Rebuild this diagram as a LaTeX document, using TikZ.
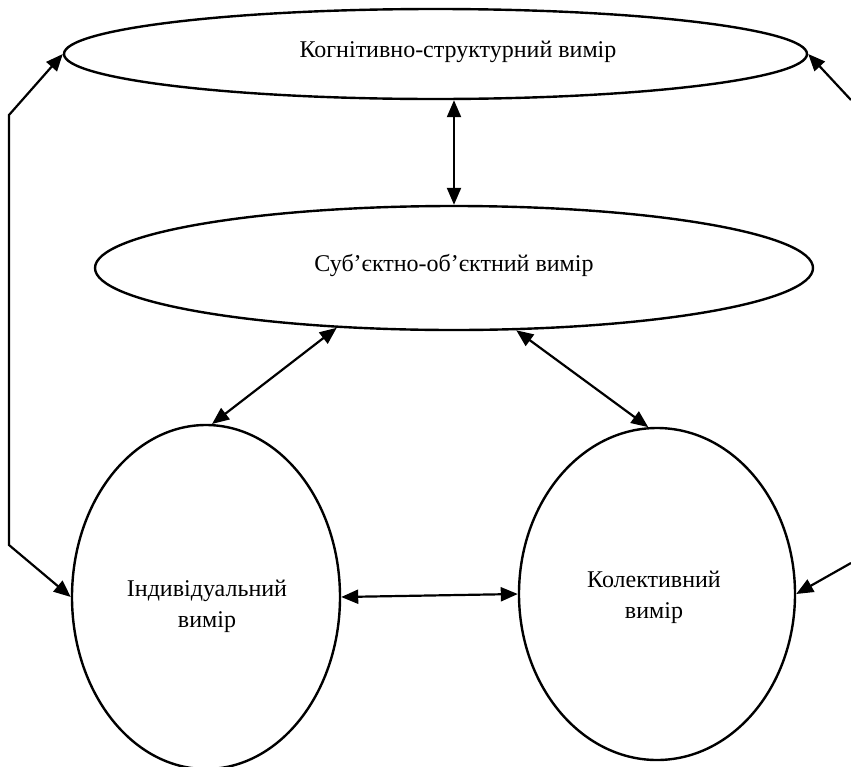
\documentclass[tikz,border=0pt]{standalone}
\usepackage{fontspec}
\setmainfont{Liberation Serif}
\usetikzlibrary{arrows.meta,shapes.geometric}
\begin{document}
\begin{tikzpicture}[x=1pt,y=-1pt,
  ell/.style={draw,ellipse,line width=2.4pt,inner sep=0pt},
  txt/.style={align=center,inner sep=0pt,font=\fontsize{24}{31}\selectfont},
  dbl/.style={line width=2.2pt,{Triangle[length=17pt,width=14pt]}-{Triangle[length=17pt,width=14pt]}},
  one/.style={line width=2.2pt,-{Triangle[length=17pt,width=14pt]}}]
\useasboundingbox (0,0) rectangle (851,766);
\node[ell,minimum width=743pt,minimum height=90pt] (top) at (435.5,54) {};
\node[ell,minimum width=718pt,minimum height=124pt] (mid) at (454,268) {};
\node[ell,minimum width=268pt,minimum height=344pt] (left) at (206,597) {};
\node[ell,minimum width=276pt,minimum height=332pt] (right) at (657,594) {};
\node[txt] (topt) at (458,52) {Когнітивно-структурний вимір};
\node[txt] (midt) at (454,265) {Суб’єктно-об’єктний вимір};
\node[txt] (leftt) at (207,606) {Індивідуальний\\вимір};
\node[txt] (rightt) at (654,597) {Колективний\\вимір};
\coordinate (cl1) at (9,545);
\coordinate (cl2) at (9,115);
\coordinate (cr1) at (851,100);
\coordinate (cr2) at (851,563);
\draw[dbl] (mid.north |- top.south) -- (mid.north);
\draw[dbl] (mid.207) -- (left.88);
\draw[dbl] (mid.315) -- (right.93);
\draw[dbl] (left.east) -- (right.west);
\draw[dbl] (left.west) -- (cl1) -- (cl2) -- (top.west);
\draw[one] (cr1) -- (top.east);
\draw[one] (cr2) -- (right.east);
\end{tikzpicture}
\end{document}
